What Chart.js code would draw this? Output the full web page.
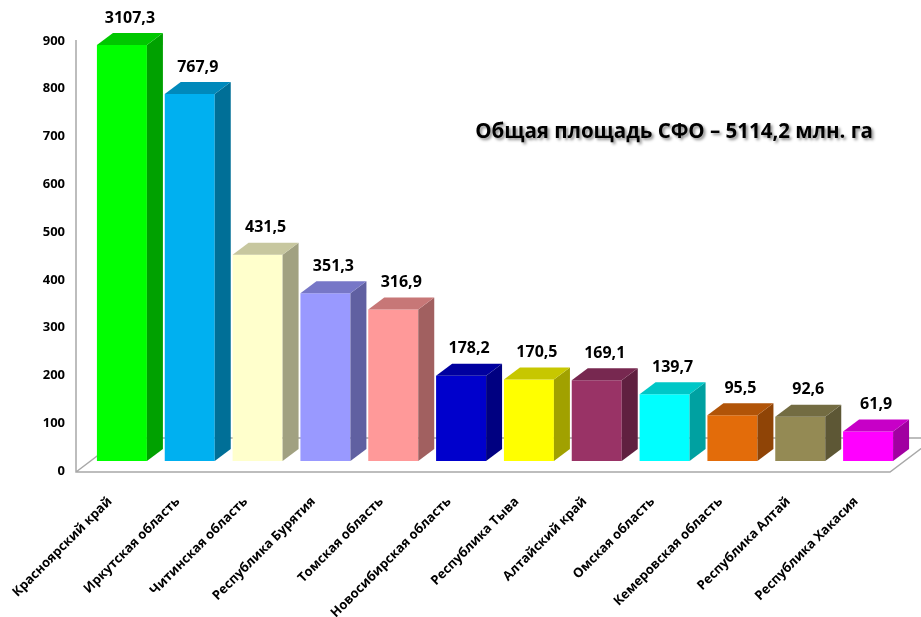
<!DOCTYPE html>
<html lang="ru">
<head>
  <meta charset="UTF-8">
  <title>Площадь субъектов СФО</title>
  <script src="https://cdn.jsdelivr.net/npm/chart.js"></script>
  <style>
    html, body { margin: 0; padding: 0; background: #fff; }
    canvas { display: block; }
  </style>
</head>
<body>
  <canvas id="areaChart" width="921" height="617"></canvas>

  <script>
    // data (млн. га)
    const regions = [
      'Красноярский край', 'Иркутская область', 'Читинская область', 'Республика Бурятия',
      'Томская область', 'Новосибирская область', 'Республика Тыва', 'Алтайский край',
      'Омская область', 'Кемеровская область', 'Республика Алтай', 'Республика Хакасия'
    ];
    const areaValues = [3107.3, 767.9, 431.5, 351.3, 316.9, 178.2, 170.5, 169.1, 139.7, 95.5, 92.6, 61.9];
    const yTicks = [0, 100, 200, 300, 400, 500, 600, 700, 800, 900];
    const titleText = 'Общая площадь СФО – 5114,2 млн. га';

    const barColors = [
      '#00ff00', '#00b0f0', '#ffffcc', '#9999ff', '#ff9999', '#0000cc',
      '#ffff00', '#993366', '#00ffff', '#e36c0a', '#948a54', '#ff00ff'
    ];

    const fontFamily = '"Open Sans", "Noto Sans", sans-serif';
    const depthX = 16, depthY = 12;   // 3d offset of bar sides
    const clipInset = 14;             // first bar is cut below the 900 line

    function shade(hex, k) {
      const n = parseInt(hex.slice(1), 16);
      const r = Math.round(((n >> 16) & 255) * k);
      const g = Math.round(((n >> 8) & 255) * k);
      const b = Math.round((n & 255) * k);
      return 'rgb(' + r + ',' + g + ',' + b + ')';
    }

    const bars3d = {
      id: 'bars3d',
      beforeDatasetsDraw(chart) {
        const { ctx, chartArea: a } = chart;
        const fx = a.left - 12, fy = a.bottom + 11;
        ctx.save();
        ctx.strokeStyle = '#a8a8a8';
        ctx.lineWidth = 1.5;
        ctx.beginPath();
        ctx.moveTo(fx, a.top + 9);
        ctx.lineTo(fx, fy);
        ctx.lineTo(a.right - 12, fy);
        ctx.lineTo(a.right - 12 + 45, fy - 34);
        ctx.moveTo(fx, fy);
        ctx.lineTo(fx + 45, fy - 34);
        ctx.lineTo(chart.width, fy - 34);
        ctx.stroke();
        ctx.restore();
      },
      afterDatasetsDraw(chart) {
        const { ctx, chartArea: a } = chart;
        const meta = chart.getDatasetMeta(0);
        const limit = a.top + clipInset;
        ctx.save();
        meta.data.forEach((bar, i) => {
          const p = bar.getProps(['x', 'y', 'base', 'width'], true);
          const l = p.x - p.width / 2, r = p.x + p.width / 2;
          const t = Math.max(p.y, limit);
          const c = barColors[i];

          ctx.fillStyle = shade(c, 0.63);
          ctx.beginPath();
          ctx.moveTo(r, p.base);
          ctx.lineTo(r + depthX, p.base - depthY);
          ctx.lineTo(r + depthX, t - depthY);
          ctx.lineTo(r, t);
          ctx.closePath();
          ctx.fill();

          ctx.fillStyle = shade(c, 0.78);
          ctx.beginPath();
          ctx.moveTo(l, t);
          ctx.lineTo(l + depthX, t - depthY);
          ctx.lineTo(r + depthX, t - depthY);
          ctx.lineTo(r, t);
          ctx.closePath();
          ctx.fill();

          ctx.fillStyle = '#000';
          ctx.font = 'bold 16px ' + fontFamily;
          ctx.textAlign = 'center';
          ctx.textBaseline = 'middle';
          ctx.fillText(areaValues[i].toFixed(1).replace('.', ','), p.x + depthX / 2, t - 27);
        });
        ctx.restore();
      },
      afterDraw(chart) {
        const ctx = chart.ctx;
        ctx.save();
        ctx.font = 'bold 20.5px ' + fontFamily;
        ctx.textAlign = 'center';
        ctx.textBaseline = 'middle';
        ctx.shadowColor = 'rgba(0,0,0,0.45)';
        ctx.shadowBlur = 3;
        ctx.shadowOffsetX = 2;
        ctx.shadowOffsetY = 2;
        ctx.fillStyle = '#000';
        ctx.fillText(titleText, 674, 132);
        ctx.restore();
      }
    };

    const ctx = document.getElementById('areaChart').getContext('2d');
    new Chart(ctx, {
      type: 'bar',
      data: {
        labels: regions,
        datasets: [{
          data: areaValues,
          backgroundColor: barColors,
          borderWidth: 0,
          barPercentage: 0.737,
          categoryPercentage: 1,
          clip: { left: 0, top: -clipInset, right: 0, bottom: 0 }
        }]
      },
      options: {
        responsive: false,
        animation: false,
        layout: { padding: { top: 31, right: 19, left: 0, bottom: 0 } },
        plugins: {
          legend: { display: false },
          tooltip: { enabled: false }
        },
        scales: {
          x: {
            grid: { display: false },
            border: { display: false },
            ticks: {
              color: '#000',
              font: { family: fontFamily, size: 13, weight: 'bold' },
              minRotation: 45,
              maxRotation: 45,
              padding: 25,
              labelOffset: -12,
              autoSkip: false
            },
            afterFit(scale) {
              scale.height = 156;
              scale.paddingLeft = 0;
              scale.paddingRight = 0;
            }
          },
          y: {
            min: 0,
            max: 900,
            afterBuildTicks(scale) { scale.ticks = yTicks.map(v => ({ value: v })); },
            grid: { display: false, drawTicks: false },
            border: { display: false },
            ticks: {
              color: '#000',
              font: { family: fontFamily, size: 13, weight: 'bold' },
              padding: 23,
              labelOffset: 10
            },
            afterFit(scale) { scale.width = 88; }
          }
        }
      },
      plugins: [bars3d]
    });
  </script>
</body>
</html>
